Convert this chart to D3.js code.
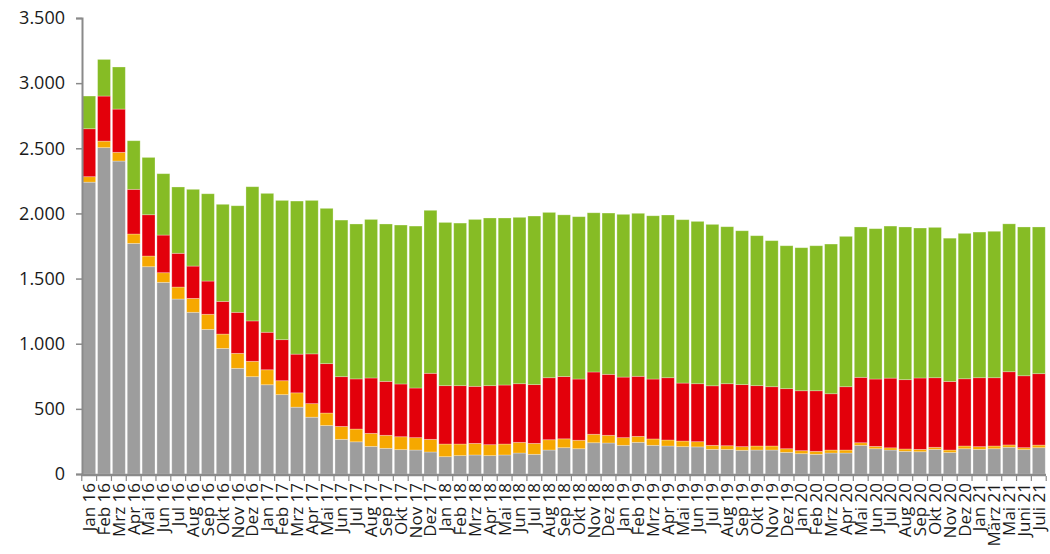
<!DOCTYPE html>
<html>
<head>
<meta charset="utf-8">
<script src="https://cdn.jsdelivr.net/npm/d3@7"></script>
<style>
  body { margin: 0; background: #fff; }
  svg { display: block; font-family: "Open Sans", sans-serif; }
</style>
</head>
<body>
<svg id="chart" width="1050" height="554"></svg>
<script>
// months on the x axis (Feb 21 and Apr 21 are missing in the source)
const months = [
  "Jan 16","Feb 16","Mrz 16","Apr 16","Mai 16","Jun 16","Jul 16","Aug 16","Sep 16","Okt 16","Nov 16","Dez 16",
  "Jan 17","Feb 17","Mrz 17","Apr 17","Mai 17","Jun 17","Jul 17","Aug 17","Sep 17","Okt 17","Nov 17","Dez 17",
  "Jan 18","Feb 18","Mrz 18","Apr 18","Mai 18","Jun 18","Jul 18","Aug 18","Sep 18","Okt 18","Nov 18","Dez 18",
  "Jan 19","Feb 19","Mrz 19","Apr 19","Mai 19","Jun 19","Jul 19","Aug 19","Sep 19","Okt 19","Nov 19","Dez 19",
  "Jan 20","Feb 20","Mrz 20","Apr 20","Mai 20","Jun 20","Jul 20","Aug 20","Sep 20","Okt 20","Nov 20","Dez 20",
  "Jan 21","März 21","Mai 21","Juni 21","Juli 21"
];

const grey = [
  2240,2505,2402,1770,1591,1471,1343,1241,1110,964,811,747,
  685,609,513,436,372,266,247,212,197,187,184,169,
  133,141,146,141,146,161,151,184,202,194,240,238,
  220,243,220,215,210,208,189,188,182,184,184,166,
  156,151,161,161,220,194,184,174,171,189,165,194,
  189,194,205,187,202
];
const orange = [
  42,50,67,72,82,74,92,107,116,110,115,118,
  115,107,110,104,96,99,98,100,100,99,95,97,
  97,89,89,84,84,82,84,79,68,65,65,59,
  59,46,49,46,43,40,31,29,28,31,31,28,
  23,23,23,23,20,18,17,18,18,16,19,21,
  21,21,18,15,20
];
const red = [
  368,346,332,343,317,289,259,248,255,251,315,310,
  288,315,297,382,379,382,385,425,414,405,381,507,
  448,448,438,453,453,450,451,476,478,470,478,468,
  465,461,460,478,445,445,457,476,476,463,455,461,
  460,465,432,486,502,517,535,532,548,534,526,516,
  529,524,562,552,548
];
const green = [
  251,281,323,373,440,471,509,589,670,745,818,1030,
  1066,1069,1175,1178,1192,1202,1189,1217,1208,1220,1243,1251,
  1253,1248,1281,1287,1282,1277,1294,1269,1241,1246,1222,1238,
  1249,1251,1253,1249,1254,1246,1239,1205,1181,1151,1121,1097,
  1098,1113,1149,1154,1154,1154,1167,1172,1151,1154,1100,1116,
  1118,1124,1135,1142,1126
];

const yTicks = [0, 500, 1000, 1500, 2000, 2500, 3000, 3500];

const keys = ["grey", "orange", "red", "green"];
const colors = { grey: "#9d9d9d", orange: "#f6a800", red: "#e3000b", green: "#86bc25" };
const series = { grey, orange, red, green };

const rows = months.map((m, i) => {
  const r = { month: m };
  keys.forEach(k => { r[k] = series[k][i]; });
  return r;
});

const margin = { top: 18, right: 4, bottom: 80, left: 82 };
const width = 1050, height = 554;

const svg = d3.select("#chart");

const x = d3.scaleBand()
  .domain(months)
  .range([margin.left, width - margin.right])
  .paddingInner(0.13)
  .paddingOuter(0.05);

const y = d3.scaleLinear()
  .domain([0, 3500])
  .range([height - margin.bottom, margin.top]);

const de = d3.formatLocale({ decimal: ",", thousands: ".", grouping: [3], currency: ["", " €"] });
const fmt = de.format(",");

const stacked = d3.stack().keys(keys)(rows);

// BARS
svg.append("g")
  .selectAll("g")
  .data(stacked)
  .join("g")
  .attr("fill", d => colors[d.key])
  .selectAll("rect")
  .data(d => d)
  .join("rect")
  .attr("x", d => x(d.data.month))
  .attr("width", x.bandwidth())
  .attr("y", d => y(d[1]))
  .attr("height", d => y(d[0]) - y(d[1]))
  .attr("stroke", "#ffffff")
  .attr("stroke-opacity", 0.35)
  .attr("stroke-width", 0.8);

// Y AXIS
const yAxis = svg.append("g")
  .attr("transform", `translate(${margin.left},0)`)
  .call(d3.axisLeft(y).tickValues(yTicks).tickFormat(fmt).tickSize(6).tickPadding(11));
yAxis.select(".domain").attr("stroke", "#8a8a8a").attr("stroke-width", 2);
yAxis.selectAll(".tick line").attr("stroke", "#8a8a8a").attr("stroke-width", 1.5);
yAxis.selectAll("text")
  .attr("font-size", 18)
  .attr("font-family", "'Open Sans', sans-serif")
  .attr("fill", "#1a1a1a");

// X AXIS
const y0 = y(0);
const gap = x.step() * x.paddingInner() / 2;
const xAxis = svg.append("g");
xAxis.append("line")
  .attr("x1", margin.left - 1)
  .attr("x2", width - margin.right)
  .attr("y1", y0 + 1)
  .attr("y2", y0 + 1)
  .attr("stroke", "#8a8a8a")
  .attr("stroke-width", 2.5);

const tickX = months.map(m => x(m) - gap).concat([x(months[months.length - 1]) + x.bandwidth() + gap]);
xAxis.selectAll(".xtick")
  .data(tickX)
  .join("line")
  .attr("class", "xtick")
  .attr("x1", d => d)
  .attr("x2", d => d)
  .attr("y1", y0 + 2)
  .attr("y2", y0 + 7)
  .attr("stroke", "#8a8a8a")
  .attr("stroke-width", 1.2);

xAxis.selectAll(".xlabel")
  .data(months)
  .join("text")
  .attr("class", "xlabel")
  .attr("transform", d => `translate(${x(d) + x.bandwidth() / 2},${y0 + 9}) rotate(-90)`)
  .attr("text-anchor", "end")
  .attr("dy", "0.35em")
  .attr("font-size", 17)
  .attr("fill", "#1a1a1a")
  .text(d => d);
</script>
</body>
</html>
